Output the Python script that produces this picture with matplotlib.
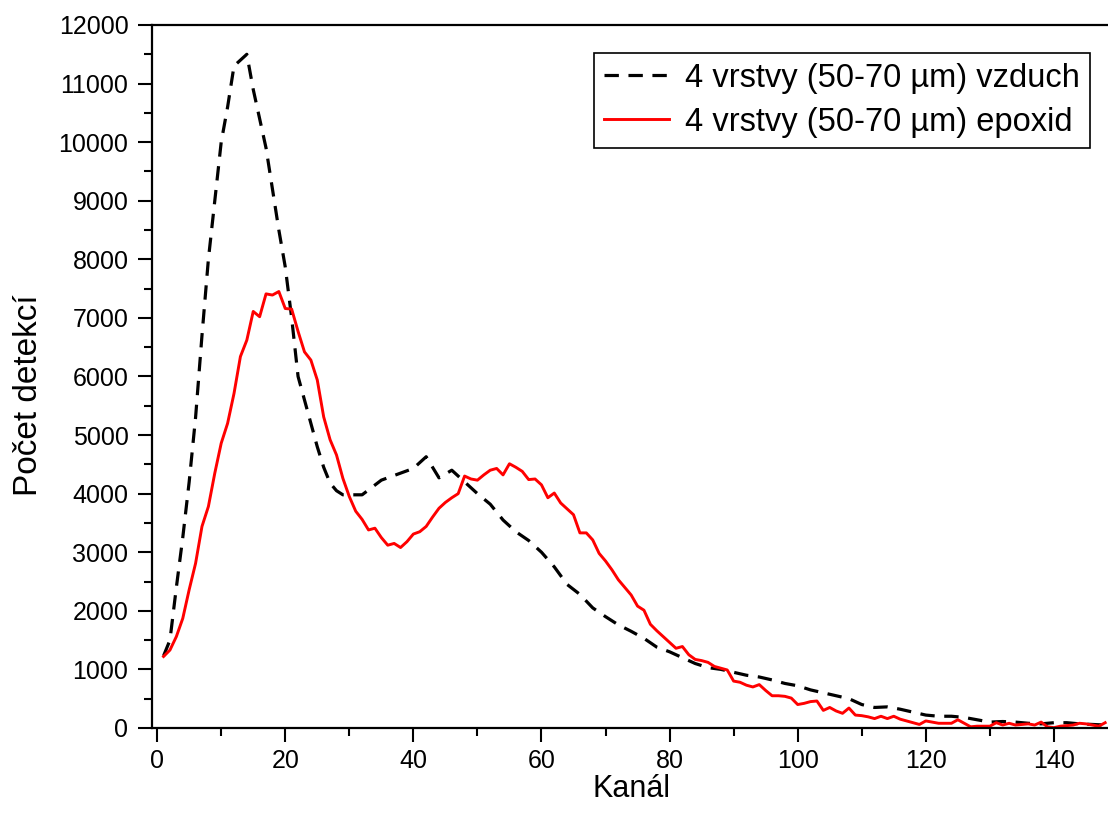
import matplotlib
matplotlib.use('Agg')
import matplotlib.pyplot as plt
from matplotlib.ticker import MultipleLocator

plt.rcParams['font.family'] = ['Liberation Sans', 'DejaVu Sans']

# vzduch (dashed black) - channel / counts
air_x = [1, 2, 3, 4, 5, 6, 7, 8, 9, 10, 11, 12, 14, 15, 16, 17, 18, 19, 20,
         21, 22, 23, 24, 25, 26, 27, 28, 29, 32, 35, 40, 42, 44, 46, 48, 50,
         52, 54, 56, 58, 60, 62, 64, 66, 68, 70, 72, 74, 76, 78, 80, 82, 84,
         86, 88, 90, 92, 94, 96, 98, 100, 102, 104, 106, 108, 110, 112, 114,
         116, 118, 120, 122, 124, 126, 128, 130, 132, 134, 136, 138, 140, 142,
         144, 146, 148]
air_y = [1230, 1500, 2400, 3250, 4200, 5300, 6700, 8000, 9000, 10000, 10600,
         11300, 11500, 10900, 10400, 9900, 9200, 8500, 7870, 7000, 6000, 5600,
         5200, 4800, 4450, 4180, 4050, 3980, 3980, 4230, 4430, 4630, 4270,
         4400, 4200, 4000, 3820, 3550, 3350, 3200, 3000, 2750, 2450, 2280,
         2050, 1900, 1760, 1650, 1530, 1380, 1300, 1200, 1100, 1030, 1000,
         950, 900, 870, 820, 760, 720, 650, 600, 550, 500, 400, 350, 360, 320,
         270, 220, 200, 200, 180, 140, 100, 110, 100, 80, 70, 90, 90, 70, 60,
         50]

# epoxid (solid red) - channels 1..148
epox_x = list(range(1, 149))
epox_y = [1220, 1330, 1560, 1870, 2360, 2810, 3440, 3780, 4350, 4860,
          5200, 5710, 6340, 6620, 7110, 7020, 7410, 7390, 7450, 7160,
          7150, 6770, 6420, 6280, 5940, 5310, 4920, 4660, 4260, 3950,
          3700, 3560, 3380, 3410, 3250, 3120, 3150, 3080, 3180, 3310,
          3350, 3440, 3600, 3750, 3850, 3930, 4000, 4300, 4250, 4230,
          4320, 4400, 4430, 4320, 4510, 4450, 4380, 4240, 4250, 4150,
          3930, 4010, 3840, 3740, 3640, 3330, 3330, 3210, 2980, 2850,
          2700, 2530, 2400, 2270, 2080, 2010, 1770, 1660, 1560, 1460,
          1360, 1390, 1250, 1170, 1150, 1120, 1050, 1020, 990, 800,
          780, 730, 700, 740, 640, 550, 550, 540, 510, 400,
          420, 450, 460, 300, 350, 290, 250, 340, 220, 210,
          190, 160, 200, 160, 200, 150, 120, 90, 60, 120,
          100, 80, 80, 80, 140, 80, 20, 30, 30, 30,
          90, 50, 80, 50, 60, 70, 50, 100, 20, 5,
          30, 40, 50, 80, 70, 50, 30, 90]

labels = ['4 vrstvy (50-70 µm) vzduch', '4 vrstvy (50-70 µm) epoxid']

fig = plt.figure(figsize=(11.08, 8.22), dpi=100)
ax = fig.add_axes([0.1372, 0.1144, 0.8718, 0.8552])

ax.plot(air_x, air_y, color='black', lw=2.3, dashes=(4.5, 3), label=labels[0])
ax.plot(epox_x, epox_y, color='red', lw=2.1, label=labels[1])

ax.set_xlim(-0.8, 150)
ax.set_ylim(0, 12000)
ax.xaxis.set_major_locator(MultipleLocator(20))
ax.xaxis.set_minor_locator(MultipleLocator(10))
ax.yaxis.set_major_locator(MultipleLocator(1000))
ax.yaxis.set_minor_locator(MultipleLocator(500))
ax.tick_params(which='both', direction='out', width=1.5, labelsize=18,
               top=False, right=False)
ax.tick_params(which='major', length=10)
ax.tick_params(which='minor', length=5.5)
ax.tick_params(axis='x', which='major', pad=5.5)
ax.tick_params(axis='y', which='major', pad=7)
for s in ax.spines.values():
    s.set_linewidth(1.6)

ax.set_xlabel('Kanál', fontsize=22)
ax.set_ylabel('Počet detekcí', fontsize=24)
ax.xaxis.set_label_coords(0.496, -0.066)
ax.yaxis.set_label_coords(-0.112, 0.474)

leg = ax.legend(loc='upper right', bbox_to_anchor=(1090 / 1108, 1 - 53 / 822),
                bbox_transform=fig.transFigure, borderaxespad=0,
                fontsize=23.5, frameon=True, fancybox=False, framealpha=1,
                edgecolor='black', handlelength=2.0, handletextpad=0.5,
                labelspacing=0.4, borderpad=0.3)
leg.get_frame().set_linewidth(1.2)

fig.savefig('out.png', dpi=100)
